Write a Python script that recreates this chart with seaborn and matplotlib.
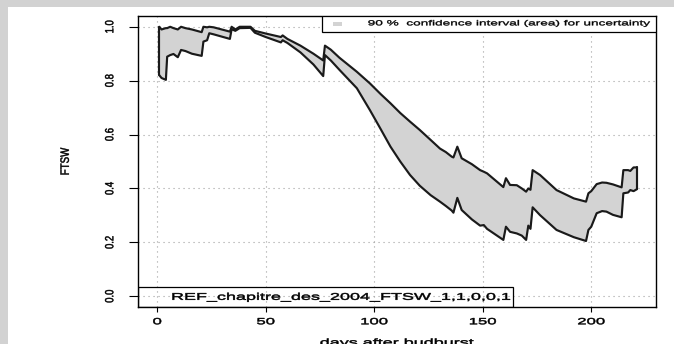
import numpy as np
import pandas as pd
import matplotlib
matplotlib.use("Agg")
import matplotlib.pyplot as plt
import seaborn as sns
from matplotlib.patches import Rectangle
from matplotlib.patheffects import AbstractPathEffect
from matplotlib.transforms import Affine2D

# Simulated fraction of transpirable soil water (FTSW): bounds of the 90 % band
days = [1, 2, 4, 4.6, 6, 7.5, 9.5, 11, 13, 16, 20.5, 21.3, 23, 24, 26, 33.5,
        34.3, 36, 38, 43, 45, 50, 57, 57.8, 60, 66, 72, 76.5, 77.3, 80, 84,
        92, 98, 103, 107.5, 112, 116.5, 121, 126, 130.3, 133, 135.7, 136.5,
        138.3, 140.3, 145, 148.8, 150.5, 152, 159.5, 160.7, 162.6, 165.7, 168,
        170, 171, 172, 173, 176.4, 184, 192, 197.6, 198.7, 200, 202.5, 205,
        207, 210, 214, 214.8, 217, 218, 219.5, 221]
ftsw_upper = [1.00, 0.99, 0.995, 0.995, 1.0, 0.995, 0.99, 1.0, 0.995, 0.99,
              0.98, 1.0, 0.998, 1.0, 0.998, 0.982, 1.0, 0.99, 1.0, 1.0, 0.985,
              0.975, 0.962, 0.968, 0.955, 0.93, 0.90, 0.875, 0.93, 0.915,
              0.885, 0.833, 0.79, 0.75, 0.716, 0.68, 0.648, 0.617, 0.58,
              0.548, 0.535, 0.518, 0.515, 0.555, 0.512, 0.49, 0.468, 0.462,
              0.456, 0.405, 0.438, 0.413, 0.412, 0.40, 0.388, 0.40, 0.395,
              0.468, 0.45, 0.394, 0.363, 0.351, 0.382, 0.39, 0.416, 0.422,
              0.421, 0.415, 0.404, 0.468, 0.468, 0.465, 0.478, 0.478]
ftsw_lower = [0.82, 0.81, 0.803, 0.889, 0.895, 0.899, 0.887, 0.914, 0.91, 0.90,
              0.892, 0.945, 0.95, 0.976, 0.972, 0.955, 0.991, 0.985, 0.995,
              0.996, 0.978, 0.962, 0.942, 0.950, 0.94, 0.905, 0.86, 0.817,
              0.895, 0.875, 0.84, 0.772, 0.691, 0.62, 0.555, 0.50, 0.45, 0.41,
              0.375, 0.351, 0.335, 0.318, 0.31, 0.365, 0.32, 0.285, 0.262,
              0.264, 0.25, 0.209, 0.258, 0.239, 0.233, 0.225, 0.209, 0.262,
              0.25, 0.33, 0.301, 0.246, 0.219, 0.205, 0.246, 0.258, 0.308,
              0.316, 0.314, 0.302, 0.293, 0.382, 0.385, 0.394, 0.39, 0.397]

x_ticks = [0, 50, 100, 150, 200]
y_ticks = [0.0, 0.2, 0.4, 0.6, 0.8, 1.0]
y_tick_labels = ["0.0", "0.2", "0.4", "0.6", "0.8", "1.0"]
ci_label = "90 %  confidence interval (area) for uncertainty"
run_label = "REF_chapitre_des_2004_FTSW_1,1,0,0,1"
x_label = "days after budburst"
y_label = "FTSW"

LINE = "#1a1a1a"
BAND = "#d3d3d3"
FRAME = "#d2d2d2"


class Widen(AbstractPathEffect):
    """Stretch text glyphs horizontally about their left edge or centre,
    with a hairline outline to give the strokes some weight."""

    def __init__(self, factor, anchor="center", stroke=0.35):
        super().__init__()
        self.factor = factor
        self.anchor = anchor
        self.stroke = stroke

    def draw_path(self, renderer, gc, tpath, affine, rgbFace=None):
        ext = tpath.get_extents(affine)
        cx = ext.x0 if self.anchor == "left" else 0.5 * (ext.x0 + ext.x1)
        widen = Affine2D().translate(-cx, 0).scale(self.factor, 1.0).translate(cx, 0)
        gc0 = renderer.new_gc()
        gc0.copy_properties(gc)
        if rgbFace is not None and self.stroke > 0:
            gc0.set_foreground(rgbFace)
            gc0.set_linewidth(self.stroke)
        renderer.draw_path(gc0, tpath, affine + widen, rgbFace)
        gc0.restore()


WIDE = 1.85
WIDE_ROT = 1.25

sns.set_theme(style="white")
plt.rcParams["font.family"] = ["Liberation Sans", "DejaVu Sans"]

df = pd.DataFrame({"day": days, "upper": ftsw_upper, "lower": ftsw_lower})
long_df = df.melt(id_vars="day", var_name="bound", value_name="FTSW")

W, H = 674, 344
fig = plt.figure(figsize=(W / 100, H / 100), dpi=100)
fig.patch.set_facecolor("white")
# grey window frame along the top and left edges
fig.patches.append(Rectangle((0, 1 - 7 / H), 1, 7 / H, transform=fig.transFigure,
                             facecolor=FRAME, edgecolor="none", zorder=0))
fig.patches.append(Rectangle((0, 0), 8 / W, 1, transform=fig.transFigure,
                             facecolor=FRAME, edgecolor="none", zorder=0))

ax = fig.add_axes([138 / W, 37 / H, 518 / W, 291 / H])
ax.set_facecolor("white")

ax.fill_between(df["day"], df["lower"], df["upper"], color=BAND, lw=0, zorder=2)
sns.lineplot(data=long_df, x="day", y="FTSW", hue="bound",
             palette={"upper": LINE, "lower": LINE}, estimator=None,
             legend=False, lw=1.55, ax=ax, zorder=3)
# close the band at both ends
ax.plot([days[0], days[0]], [ftsw_lower[0], ftsw_upper[0]], color=LINE, lw=1.55, zorder=3)
ax.plot([days[-1], days[-1]], [ftsw_lower[-1], ftsw_upper[-1]], color=LINE, lw=1.55, zorder=3)

ax.set_xlim(-8.84, 229.84)
ax.set_ylim(-0.04, 1.04)
ax.set_xticks(x_ticks)
ax.set_yticks(y_ticks)
ax.set_yticklabels(y_tick_labels)
ax.set_xlabel("")
ax.set_ylabel("")

ax.grid(True, color="#a0a0a0", lw=0.8, ls=(0, (1, 3.5)))
ax.set_axisbelow(True)
for sp in ax.spines.values():
    sp.set_visible(True)
    sp.set_color("black")
    sp.set_linewidth(1.0)

ax.tick_params(axis="x", length=3.6, width=0.8, color="black", pad=3.8,
               labelsize=6.5, labelcolor="black", bottom=True)
ax.tick_params(axis="y", length=6.7, width=0.8, color="black", pad=13.5,
               labelsize=6.8, labelcolor="black", left=True)
for lbl in ax.get_xticklabels():
    lbl.set_path_effects([Widen(WIDE)])
for lbl in ax.get_yticklabels():
    lbl.set_rotation(90)
    lbl.set_ha("center")
    lbl.set_va("center")
    lbl.set_path_effects([Widen(WIDE_ROT)])

# legend for the uncertainty band (top right)
ax.add_patch(Rectangle((0.355, 0.946), 0.645, 0.054, transform=ax.transAxes,
                       facecolor="white", edgecolor="black", lw=0.9, zorder=4))
ax.add_patch(Rectangle((0.376, 0.9667), 0.017, 0.0117, transform=ax.transAxes,
                       facecolor=BAND, edgecolor="none", zorder=5))
ax.text(0.444, 0.973, ci_label, transform=ax.transAxes, fontsize=5.3,
        ha="left", va="center", color="black", zorder=5,
        path_effects=[Widen(WIDE, "left", 0.25)])

# run identifier (bottom left)
ax.add_patch(Rectangle((0.0, 0.0), 0.724, 0.0698, transform=ax.transAxes,
                       facecolor="none", edgecolor="black", lw=0.9, zorder=4))
ax.text(0.065, 0.035, run_label, transform=ax.transAxes, fontsize=7.0,
        ha="left", va="center", color="black", zorder=5,
        path_effects=[Widen(WIDE, "left")])

fig.text(65 / W, 1 - 161.5 / H, y_label, rotation=90, ha="center", va="center",
         fontsize=7.0, color="black", path_effects=[Widen(WIDE_ROT)])
fig.text(397 / W, -1.5 / H, x_label, ha="center", va="baseline",
         fontsize=7.0, color="black", path_effects=[Widen(WIDE)])

fig.savefig("out.png", dpi=100, facecolor=fig.get_facecolor())
